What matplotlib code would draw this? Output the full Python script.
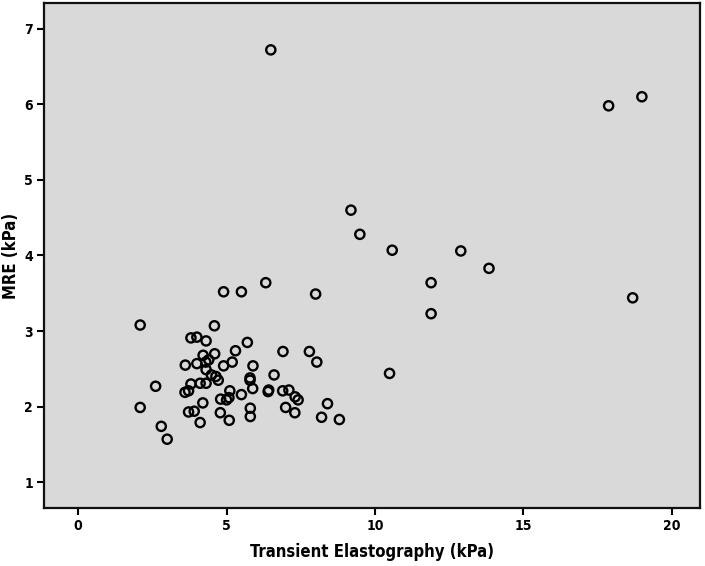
import matplotlib
matplotlib.use("Agg")
import matplotlib.pyplot as plt
from matplotlib import font_manager

# values (x = TE kPa, y = MRE kPa)
te = [2.09, 4.59, 3.80, 4.00, 4.31, 5.70, 5.30, 4.60, 4.21, 4.40,
      4.30, 4.00, 3.61, 5.19, 4.90, 5.89, 4.31, 4.49, 4.64, 4.72,
      5.79, 5.79, 4.11, 4.31, 3.80, 3.72, 3.60, 5.11, 5.88, 5.50,
      4.80, 5.00, 5.08, 4.20, 3.72, 3.91, 4.79, 5.80, 5.80, 4.11,
      5.09, 2.61, 2.09, 2.80, 3.00, 6.90, 7.79, 8.04, 6.60, 6.40,
      6.42, 6.89, 7.10, 7.31, 7.41, 6.99, 7.30, 8.40, 8.20, 8.80,
      4.90, 5.50, 6.32, 8.00, 9.19, 9.49, 10.58, 12.89, 13.84, 11.89,
      11.89, 18.68, 10.49, 6.49, 17.87, 18.99]
mre = [3.08, 3.07, 2.91, 2.92, 2.87, 2.85, 2.74, 2.70, 2.68, 2.62,
       2.59, 2.57, 2.55, 2.59, 2.54, 2.54, 2.49, 2.42, 2.40, 2.35,
       2.38, 2.35, 2.31, 2.31, 2.30, 2.21, 2.19, 2.21, 2.24, 2.16,
       2.10, 2.09, 2.12, 2.05, 1.93, 1.94, 1.92, 1.98, 1.87, 1.79,
       1.82, 2.27, 1.99, 1.74, 1.57, 2.73, 2.73, 2.59, 2.42, 2.20,
       2.22, 2.21, 2.22, 2.13, 2.09, 1.99, 1.92, 2.04, 1.86, 1.83,
       3.52, 3.52, 3.64, 3.49, 4.60, 4.28, 4.07, 4.06, 3.83, 3.64,
       3.23, 3.44, 2.44, 6.72, 5.98, 6.10]

x_ticks = [0, 5, 10, 15, 20]
y_ticks = [1, 2, 3, 4, 5, 6, 7]

# condensed bold look, like the SPSS output
plt.rcParams["font.family"] = ["DejaVu Sans"]
if any(f.name == "DejaVu Sans" and f.stretch == "condensed" for f in font_manager.fontManager.ttflist):
    plt.rcParams["font.stretch"] = "condensed"

fig = plt.figure(figsize=(7.05, 5.66), dpi=100)
ax = fig.add_axes([0.0624, 0.1025, 0.9306, 0.8922])
ax.set_facecolor("#d9d9d9")

ax.scatter(te, mre, s=44, facecolors="none", edgecolors="black", linewidths=1.7, zorder=3)

ax.set_xlim(-1.15, 20.95)
ax.set_ylim(0.66, 7.34)
ax.set_xticks(x_ticks)
ax.set_yticks(y_ticks)
ax.tick_params(direction="out", length=5, width=1.5, labelsize=10, pad=3)
for lab in ax.get_xticklabels() + ax.get_yticklabels():
    lab.set_fontweight("bold")
for sp in ax.spines.values():
    sp.set_linewidth(1.6)
    sp.set_color("#111111")

ax.set_xlabel("Transient Elastography (kPa)", fontsize=12, fontweight="bold", labelpad=7)
ax.set_ylabel("MRE (kPa)", fontsize=12, fontweight="bold", labelpad=3)

fig.savefig("out.png", dpi=100)
